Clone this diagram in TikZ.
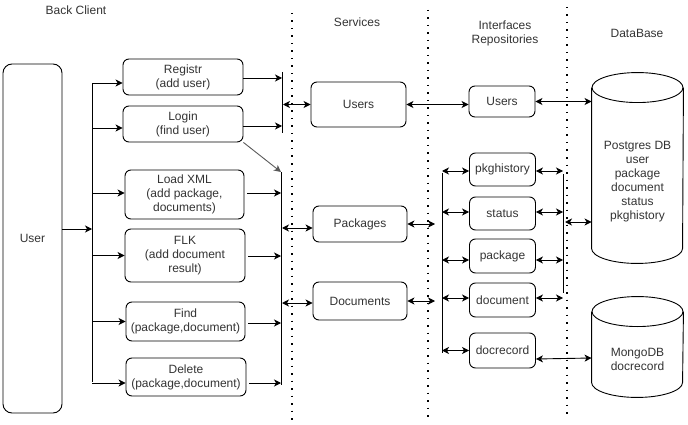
\documentclass[tikz,border=0pt]{standalone}
\usepackage{fontspec}
\setmainfont{Liberation Sans}
\usetikzlibrary{arrows.meta}

\begin{document}
\begin{tikzpicture}[x=1pt, y=-1pt, line width=0.9pt,
    font=\fontsize{12}{14}\selectfont,
    box/.style={draw, rounded corners=6pt, align=center, inner sep=0pt, text=black!80},
    db/.style={minimum width=91pt, inner sep=0pt},
    title/.style={align=center, text=black!80},
    arr/.style={-{Stealth[length=7pt,width=7pt,inset=2pt]}},
    biarr/.style={{Stealth[length=7pt,width=7pt,inset=2pt]}-{Stealth[length=7pt,width=7pt,inset=2pt]}},
    sep/.style={line width=1.5pt, dash pattern=on 1.5pt off 6pt}]
    \useasboundingbox (0,0) rectangle (688,425);

    % column titles
    \node[title] (tclient) at (76,10) {Back Client};
    \node[title] (tservices) at (357,22) {Services};
    \node[title] (trepos) at (505,33) {Interfaces\\Repositories};
    \node[title] (tdb) at (637,33) {DataBase};

    % layer separators
    \draw[sep] (292,13) -- (292,421);
    \draw[sep] (428,10) -- (428,419);
    \draw[sep] (567,7) -- (567,419);

    % client
    \node[box, rounded corners=9pt, minimum width=59pt, minimum height=349pt] (user) at (32.5,238.5) {User};
    \node[box, minimum width=120pt, minimum height=36pt] (registr) at (183,77) {Registr\\(add user)};
    \node[box, minimum width=120pt, minimum height=36pt] (login) at (183,124) {Login\\(find user)};
    \node[box, minimum width=119pt, minimum height=49pt] (loadxml) at (184.5,194.5) {Load XML\\(add package,\\documents)};
    \node[box, minimum width=120pt, minimum height=53pt] (flk) at (185,255.5) {FLK\\(add document\\result)};
    \node[box, minimum width=119pt, minimum height=39pt] (find) at (185.5,321.5) {Find\\(package,document)};
    \node[box, minimum width=120pt, minimum height=38pt] (delete) at (186,377) {Delete\\(package,document)};

    % services
    \node[box, minimum width=95pt, minimum height=45pt] (srvusers) at (358.5,104.5) {Users};
    \node[box, minimum width=94pt, minimum height=36pt] (srvpackages) at (360,224) {Packages};
    \node[box, minimum width=94pt, minimum height=38pt] (srvdocuments) at (360,301) {Documents};

    % repositories
    \node[box, minimum width=66pt, minimum height=31pt] (repusers) at (502,101.5) {Users};
    \node[box, minimum width=66pt, minimum height=33pt] (pkghistory) at (502.5,169.5) {pkghistory};
    \node[box, minimum width=66pt, minimum height=33pt] (status) at (502.5,213.5) {status};
    \node[box, minimum width=66pt, minimum height=34pt] (package) at (502.5,256) {package};
    \node[box, minimum width=66pt, minimum height=34pt] (document) at (502.5,300) {document};
    \node[box, minimum width=66pt, minimum height=35pt] (docrecord) at (502.5,350.5) {docrecord};

    % databases
    \node[db, minimum height=190pt] (pg) at (637.5,168) {};
    \draw ([yshift=-15pt]pg.north) ellipse [x radius=45.5pt, y radius=15pt];
    \draw ([yshift=-15pt]pg.north west) -- ([yshift=15pt]pg.south west)
        arc[start angle=180, end angle=360, x radius=45.5pt, y radius=15pt] -- ([yshift=-15pt]pg.north east);
    \node[title] (pgtext) at (637.5,181.5) {Postgres DB\\user\\package\\document\\status\\pkghistory};
    \node[db, minimum height=100pt] (mg) at (637.5,347) {};
    \draw ([yshift=-15pt]mg.north) ellipse [x radius=45.5pt, y radius=15pt];
    \draw ([yshift=-15pt]mg.north west) -- ([yshift=15pt]mg.south west)
        arc[start angle=180, end angle=360, x radius=45.5pt, y radius=15pt] -- ([yshift=-15pt]mg.north east);
    \node[title] (mgtext) at (637.5,359.5) {MongoDB\\docrecord};

    % buses
    \coordinate (cbtop) at (92,84);
    \coordinate (cbbot) at (92,382);
    \coordinate (sbatop) at (282,72);
    \coordinate (sbabot) at (282,133);
    \coordinate (sbbtop) at (281,172);
    \coordinate (sbbbot) at (281,385);
    \coordinate (lbtop) at (442,173);
    \coordinate (lbbot) at (442,353);
    \coordinate (rbtop) at (563,174);
    \coordinate (rbbot) at (563,293);
    \draw (cbtop) -- (cbbot);
    \draw (sbatop) -- (sbabot);
    \draw (sbbtop) -- (sbbbot);
    \draw (lbtop) -- (lbbot);
    \draw (rbtop) -- (rbbot);

    % user to client actions
    \draw[arr] ([yshift=9.5pt]user.east) -- ([yshift=9.5pt]user.east -| cbtop);
    \foreach \b/\s in {registr/-6, login/-4, loadxml/1.5, flk/0, find/0, delete/-6}
        \draw[arr] ([yshift=\s pt]\b.west -| cbtop) -- ([yshift=\s pt]\b.west);

    % client actions to services
    \draw[arr] ([yshift=-1pt]registr.east) -- ([yshift=-1pt]registr.east -| sbatop);
    \draw[arr] ([yshift=-2pt]login.east) -- ([yshift=-2pt]login.east -| sbatop);
    \foreach \b/\s in {loadxml/1.5, flk/-0.5, find/-1.5, delete/-6}
        \draw[arr] ([xshift=3pt,yshift=\s pt]\b.east) -- ([yshift=\s pt]\b.east -| sbbtop);
    \draw[arr, black!65] (login.south east) -- (sbbtop);

    % services
    \draw[biarr] ([xshift=1pt]srvusers.west -| sbatop) -- (srvusers.west);
    \draw[biarr] ([xshift=1pt,yshift=-4pt]srvpackages.west -| sbbtop) -- ([yshift=-4pt]srvpackages.west);
    \draw[biarr] ([xshift=1pt,yshift=-2pt]srvdocuments.west -| sbbtop) -- ([yshift=-2pt]srvdocuments.west);
    \draw[biarr] (srvusers.east) -- (srvusers.east -| repusers.west);
    \draw[biarr] (srvpackages.east) -- ([xshift=-7pt]srvpackages.east -| lbtop);
    \draw[biarr] (srvdocuments.east) -- ([xshift=-7pt]srvdocuments.east -| lbtop);

    % repositories
    \draw[biarr] (repusers.east) -- (repusers.east -| pg.west);
    \foreach \b/\s in {pkghistory/-1.5, status/1.5, package/-4, document/2}{
        \draw[biarr] ([yshift=\s pt]\b.west -| lbtop) -- ([yshift=\s pt]\b.west);
        \draw[biarr] ([yshift=\s pt]\b.east) -- ([yshift=\s pt]\b.east -| rbtop);
    }
    \draw[biarr] (docrecord.west -| lbtop) -- (docrecord.west);
    \draw[biarr] ([xshift=2pt,yshift=-54pt]pg.west -| rbtop) -- ([yshift=-54pt]pg.west);
    \draw[biarr] ([yshift=-8.5pt]docrecord.east) -- ([yshift=-11pt]mg.west);
\end{tikzpicture}
\end{document}
